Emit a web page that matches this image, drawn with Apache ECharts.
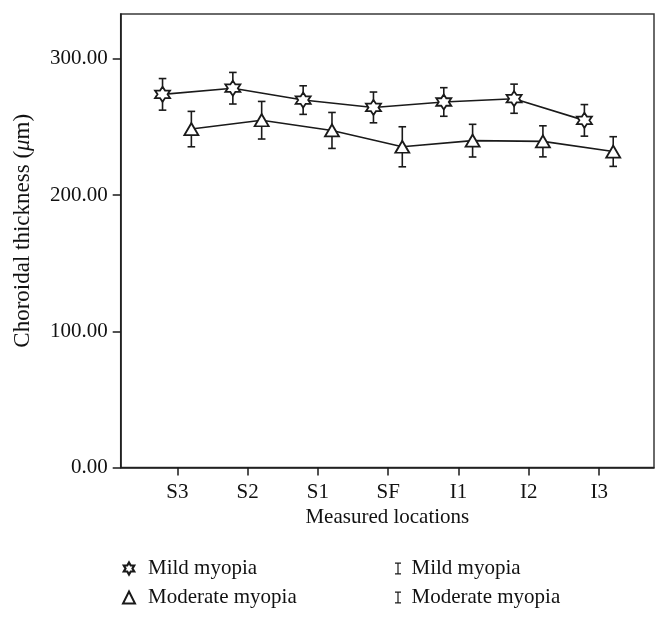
<!DOCTYPE html>
<html>
<head>
<meta charset="utf-8">
<script src="https://cdn.jsdelivr.net/npm/echarts@6/dist/echarts.min.js"></script>
<style>html,body{margin:0;padding:0;background:#fff;}#c{width:669px;height:619px;}</style>
</head>
<body>
<div id="c"></div>
<script>
const categories = ['S3', 'S2', 'S1', 'SF', 'I1', 'I2', 'I3'];
const mildMean = [274.0, 278.5, 269.8, 264.4, 268.4, 270.8, 254.9];
const mildErr  = [11.6, 11.6, 10.5, 11.3, 10.5, 10.7, 11.6];
const modMean  = [248.5, 255.0, 247.5, 235.5, 240.0, 239.5, 232.0];
const modErr   = [13.0, 13.8, 13.2, 14.7, 12.0, 11.4, 10.9];
const yTicks   = [0, 100, 200, 300];

const FONT = '"Liberation Serif", "DejaVu Serif", serif';
const INK = '#1a1a1a';
const STAR = 'path://M10,0L12.89,5L18.66,5L15.77,10L18.66,15L12.89,15L10,20L7.11,15L1.34,15L4.23,10L1.34,5L7.11,5Z';
const IBAR = 'path://M0,0H10V2H6V18H10V20H0V18H4V2H0Z';
const mildOff = -0.21, modOff = 0.2;

const catIdx = categories.map((c, i) => i);
const mildPts = catIdx.map(i => [i + mildOff, mildMean[i]]);
const modPts = catIdx.map(i => [i + modOff, modMean[i]]);
const mildBars = catIdx.map(i => [i + mildOff, mildMean[i] - mildErr[i], mildMean[i] + mildErr[i]]);
const modBars = catIdx.map(i => [i + modOff, modMean[i] - modErr[i], modMean[i] + modErr[i]]);

function errRender(params, api) {
  const x = api.value(0), lo = api.value(1), hi = api.value(2);
  const pt = api.coord([x, hi]), pb = api.coord([x, lo]);
  const w = 3.8;
  const st = { stroke: INK, lineWidth: 1.6 };
  return { type: 'group', children: [
    { type: 'line', shape: { x1: pt[0], y1: pt[1], x2: pb[0], y2: pb[1] }, style: st },
    { type: 'line', shape: { x1: pt[0] - w, y1: pt[1], x2: pt[0] + w, y2: pt[1] }, style: st },
    { type: 'line', shape: { x1: pb[0] - w, y1: pb[1], x2: pb[0] + w, y2: pb[1] }, style: st }
  ]};
}

const chart = echarts.init(document.getElementById('c'), null, { renderer: 'canvas' });
const textBase = { fontFamily: FONT, fontSize: 21, color: '#111' };
const nameStyle = { ...textBase, fontSize: 23 };
chart.setOption({
  animation: false,
  backgroundColor: '#fff',
  grid: { left: 120.7, right: 15, top: 14, bottom: 151.5, show: true, borderColor: '#3a3a3a', borderWidth: 1.5, backgroundColor: 'transparent' },
  xAxis: {
    type: 'value', min: -0.805, max: 6.78,
    axisLine: { show: true, onZero: false, lineStyle: { color: INK, width: 1.5 } },
    axisTick: { show: true, length: 8, customValues: catIdx, lineStyle: { color: INK, width: 1.5 } },
    axisLabel: { customValues: catIdx, margin: 14, formatter: v => categories[Math.round(v)] || '', ...textBase },
    splitLine: { show: false },
    name: 'Measured locations', nameLocation: 'middle', nameGap: 39,
    nameTextStyle: { ...textBase }
  },
  yAxis: {
    type: 'value', min: 0, max: 333,
    axisLine: { show: true, onZero: false, lineStyle: { color: INK, width: 1.5 } },
    axisTick: { show: true, length: 8, customValues: yTicks, lineStyle: { color: INK, width: 1.5 } },
    axisLabel: { customValues: yTicks, margin: 13, formatter: v => v.toFixed(2), ...textBase },
    splitLine: { show: false },
    name: '{a|Choroidal thickness (}{i|μ}{a|m)}', nameLocation: 'middle', nameGap: 86,
    nameTextStyle: { ...nameStyle, padding: [0, 0, 0, 20], rich: { a: { ...nameStyle }, i: { ...nameStyle, fontStyle: 'italic' } } }
  },
  legend: [
    {
      orient: 'vertical', left: 117, top: 553, itemWidth: 12, itemHeight: 12, itemGap: 8,
      textStyle: { ...textBase, padding: [0, 0, 0, 8] },
      data: [
        { name: 'Mild myopia', icon: STAR, itemStyle: { color: '#fff', borderColor: INK, borderWidth: 2.2 } },
        { name: 'Moderate myopia', icon: 'triangle', itemStyle: { color: '#fff', borderColor: INK, borderWidth: 2 } }
      ]
    },
    {
      orient: 'vertical', left: 390, top: 553, itemWidth: 7, itemHeight: 12, itemGap: 8,
      textStyle: { ...textBase, padding: [0, 0, 0, 5] },
      formatter: n => n.replace(' CI', ''),
      data: [
        { name: 'Mild myopia CI', icon: IBAR, itemStyle: { color: INK, borderWidth: 0 } },
        { name: 'Moderate myopia CI', icon: IBAR, itemStyle: { color: INK, borderWidth: 0 } }
      ]
    }
  ],
  series: [
    { name: 'Mild myopia CI', type: 'custom', renderItem: errRender, data: mildBars, encode: { x: 0, y: [1, 2] }, z: 1, itemStyle: { color: INK } },
    { name: 'Moderate myopia CI', type: 'custom', renderItem: errRender, data: modBars, encode: { x: 0, y: [1, 2] }, z: 1, itemStyle: { color: INK } },
    { name: 'Mild myopia', type: 'line', data: mildPts, symbol: STAR, symbolSize: 15, z: 3,
      lineStyle: { color: INK, width: 1.6 }, itemStyle: { color: '#fff', borderColor: INK, borderWidth: 1.8 } },
    { name: 'Moderate myopia', type: 'line', data: modPts, symbol: 'triangle', symbolSize: [14, 12], z: 3,
      lineStyle: { color: INK, width: 1.6 }, itemStyle: { color: '#fff', borderColor: INK, borderWidth: 1.8 } }
  ]
});
</script>
</body>
</html>
